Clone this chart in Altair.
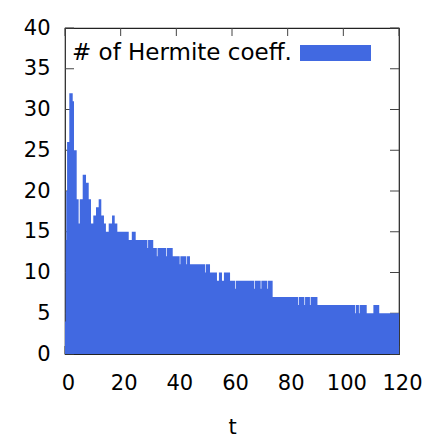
import altair as alt
import pandas as pd

# step function: number of Hermite coefficients vs time (value holds until next t)
t_start = [0.0, 0.25, 0.45, 0.75, 1.55, 2.77, 3.23, 4.2, 4.9, 5.3, 6.36, 7.55, 8.52, 9.34,
           10.17, 11.14, 12.1, 13.04, 14.0, 14.7, 15.7, 16.9, 17.86, 18.8, 22.9, 24.0, 25.4,
           29.6, 29.85, 31.7, 33.0, 33.25, 36.3, 36.55, 38.7, 41.2, 41.45, 43.6, 43.85, 44.9,
           50.3, 50.55, 52.1, 54.6, 55.3, 56.4, 57.1, 59.3, 61.1, 61.35, 67.9, 68.15, 70.3,
           70.55, 72.7, 72.95, 74.6, 83.8, 84.05, 86.0, 86.25, 88.0, 88.25, 90.7, 104.2,
           104.45, 105.6, 105.85, 108.4, 110.8, 112.9, 120.0]
n_coeff = [4, 14, 20, 26, 32, 31, 25, 19, 16, 19, 22, 21, 19, 16,
           17, 18, 19, 17, 16, 15, 16, 17, 16, 15, 14, 15, 14,
           13, 14, 13, 12, 13, 12, 13, 12, 11, 12, 11, 12, 11,
           10, 11, 10, 9, 10, 9, 10, 9, 8, 9, 8, 9, 8,
           9, 8, 9, 7, 6, 7, 6, 7, 6, 7, 6, 5,
           6, 5, 6, 5, 6, 5, 5]

x_ticks = [0, 20, 40, 60, 80, 100, 120]
y_ticks = [0, 5, 10, 15, 20, 25, 30, 35, 40]
legend_label = "# of Hermite coeff."

W, H = 334, 326
FONT = "DejaVu Sans"
BLUE = "#4169E1"

df = pd.DataFrame({"t": t_start, "n": n_coeff})
xt = pd.DataFrame({"v": x_ticks})
yt = pd.DataFrame({"v": y_ticks})
one = pd.DataFrame({"a": [0]})

xscale = alt.Scale(domain=[0, 120], nice=False, zero=False)
yscale = alt.Scale(domain=[0, 40], nice=False)

area = alt.Chart(df).mark_area(interpolate="step-after", color=BLUE, clip=True).encode(
    x=alt.X("t:Q", scale=xscale,
            axis=alt.Axis(values=x_ticks, title="t", grid=False, domain=False, ticks=False,
                          labelFont=FONT, labelFontSize=21, labelColor="black",
                          labelPadding=18, labelOffset=3, labelOverlap=False, labelFlush=False,
                          labelBound=False, titleFont=FONT, titleFontSize=21,
                          titleFontWeight="normal", titleColor="black", titlePadding=23)),
    y=alt.Y("n:Q", scale=yscale,
            axis=alt.Axis(values=y_ticks, title=None, grid=False, domain=False, ticks=False,
                          labelFont=FONT, labelFontSize=21, labelColor="black",
                          labelPadding=15, labelOverlap=False, labelFlush=False,
                          labelBound=False)),
)

tick_color = "#444444"
ytick_left = alt.Chart(yt).mark_rule(color=tick_color, strokeWidth=1).encode(
    y=alt.Y("v:Q", scale=yscale), x=alt.value(0), x2=alt.value(9))
ytick_right = alt.Chart(yt).mark_rule(color=tick_color, strokeWidth=1).encode(
    y=alt.Y("v:Q", scale=yscale), x=alt.value(W - 9), x2=alt.value(W))
xtick_bot = alt.Chart(xt).mark_rule(color=tick_color, strokeWidth=1).encode(
    x=alt.X("v:Q", scale=xscale), y=alt.value(H), y2=alt.value(H - 8))
xtick_top = alt.Chart(xt).mark_rule(color=tick_color, strokeWidth=1).encode(
    x=alt.X("v:Q", scale=xscale), y=alt.value(0), y2=alt.value(8))

leg_text = alt.Chart(one).mark_text(align="left", baseline="middle", font=FONT,
                                    fontSize=23, color="black").encode(
    x=alt.value(7), y=alt.value(25), text=alt.value(legend_label))
leg_rect = alt.Chart(one).mark_rect(color=BLUE).encode(
    x=alt.value(235), x2=alt.value(306), y=alt.value(17), y2=alt.value(33))

chart = alt.layer(ytick_left, ytick_right, xtick_bot, xtick_top, area, leg_text, leg_rect).properties(
    width=W, height=H,
    autosize=alt.AutoSizeParams(type="none"),
    padding={"left": 57, "top": 20, "right": 30, "bottom": 88},
).configure_view(stroke="#222222", strokeWidth=1.2)

chart.save("out.html", embed_options={"renderer": "svg", "actions": False})
